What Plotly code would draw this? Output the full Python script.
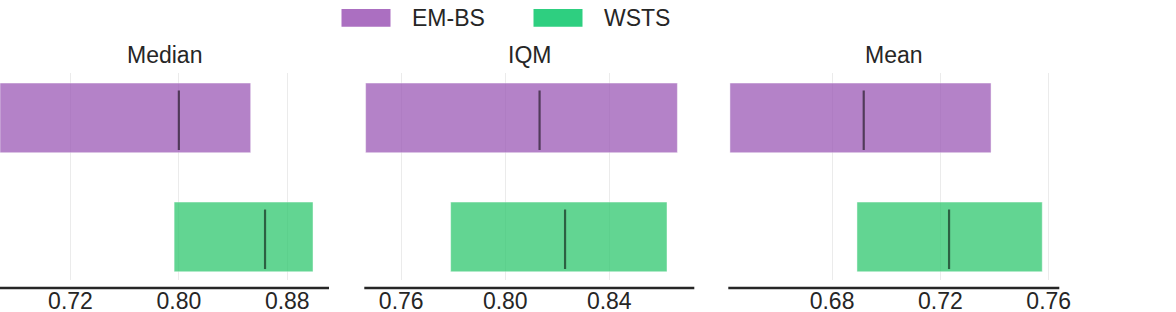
import plotly.graph_objects as go

metrics = ["Median", "IQM", "Mean"]
algorithms = ["EM-BS", "WSTS"]
# interval estimates per metric: [EM-BS, WSTS]
lows = {"Median": [0.668, 0.7965], "IQM": [0.7463, 0.7790], "Mean": [0.6423, 0.6892]}
highs = {"Median": [0.853, 0.899], "IQM": [0.8662, 0.8622], "Mean": [0.7387, 0.7576]}
points = {"Median": [0.800, 0.8636], "IQM": [0.8132, 0.8230], "Mean": [0.6917, 0.7232]}
tickvals = {"Median": [0.72, 0.80, 0.88], "IQM": [0.76, 0.80, 0.84], "Mean": [0.68, 0.72, 0.76]}
ticktext = {"Median": ["0.72", "0.80", "0.88"], "IQM": ["0.76", "0.80", "0.84"], "Mean": ["0.68", "0.72", "0.76"]}
xranges = {"Median": [0.668, 0.9108], "IQM": [0.7458, 0.8727], "Mean": [0.6417, 0.7639]}

bar_colors = ["#9b59b6", "#2ec76e"]
legend_colors = ["#ab6fc1", "#2ecf80"]

W, H = 1176, 312
domains = [[0 / W, 329 / W], [364.3 / W, 694.3 / W], [728.3 / W, 1059.3 / W]]
ydom = [1 - 280 / H, 1 - 73 / H]

fig = go.Figure()
FONT = "Liberation Sans, Arial, sans-serif"

for k, m in enumerate(metrics):
    xa = "x" if k == 0 else f"x{k+1}"
    ya = "y" if k == 0 else f"y{k+1}"
    for i, alg in enumerate(algorithms):
        lo, hi, pt = lows[m][i], highs[m][i], points[m][i]
        fig.add_trace(go.Bar(
            y=[i], x=[hi - lo], base=[lo], orientation="h", width=0.585,
            marker=dict(color=bar_colors[i], opacity=0.75,
                        line=dict(color="rgba(255,255,255,0.45)", width=1)),
            xaxis=xa, yaxis=ya, showlegend=False, hoverinfo="skip"))
        fig.add_trace(go.Scatter(
            x=[pt, pt], y=[i - 0.23, i + 0.27], mode="lines",
            line=dict(color="rgba(0,0,0,0.55)", width=2.2),
            xaxis=xa, yaxis=ya, showlegend=False, hoverinfo="skip"))
    sfx = "" if k == 0 else str(k + 1)
    fig.update_layout(**{
        f"xaxis{sfx}": dict(domain=domains[k], range=xranges[m], tickvals=tickvals[m],
                            ticktext=ticktext[m], showgrid=True, gridcolor="#ebebeb",
                            gridwidth=1, zeroline=False, showline=False, ticks="",
                            ticklabelstandoff=5, automargin=False,
                            tickfont=dict(size=23, color="#262626", family=FONT),
                            anchor=ya, fixedrange=True),
        f"yaxis{sfx}": dict(domain=ydom, range=[1.362, -0.377], showgrid=False,
                            zeroline=False, showticklabels=False, showline=False,
                            automargin=False, anchor=xa, fixedrange=True),
    })
    # offset bottom spine
    fig.add_shape(type="line", xref=f"{xa} domain", yref="paper",
                  x0=0, x1=1, y0=1 - 288 / H, y1=1 - 288 / H,
                  line=dict(color="#262626", width=2.5))
    fig.add_annotation(text=m, xref=f"{xa} domain", yref="paper", x=0.5, y=1 - 55 / H,
                       xanchor="center", yanchor="middle", showarrow=False,
                       font=dict(size=23, color="#262626", family=FONT))

# legend (manual, large swatches)
legend_x = [341.5, 533.5]
for i, alg in enumerate(algorithms):
    x0 = legend_x[i]
    fig.add_shape(type="rect", xref="paper", yref="paper",
                  x0=x0 / W, x1=(x0 + 49) / W, y0=1 - 26.7 / H, y1=1 - 9 / H,
                  fillcolor=legend_colors[i], line=dict(width=0))
    fig.add_annotation(text=alg, xref="paper", yref="paper", x=(x0 + 68) / W,
                       y=1 - 18 / H, xanchor="left", yanchor="middle", showarrow=False,
                       font=dict(size=23, color="#262626", family=FONT))

fig.update_layout(width=W, height=H, margin=dict(l=0, r=0, t=0, b=0, autoexpand=False),
                  plot_bgcolor="white", paper_bgcolor="white", barmode="overlay",
                  showlegend=False)

fig.write_html("out.html", config={"displayModeBar": False},
               post_script="document.body.style.margin='0';document.body.style.overflow='hidden';")
